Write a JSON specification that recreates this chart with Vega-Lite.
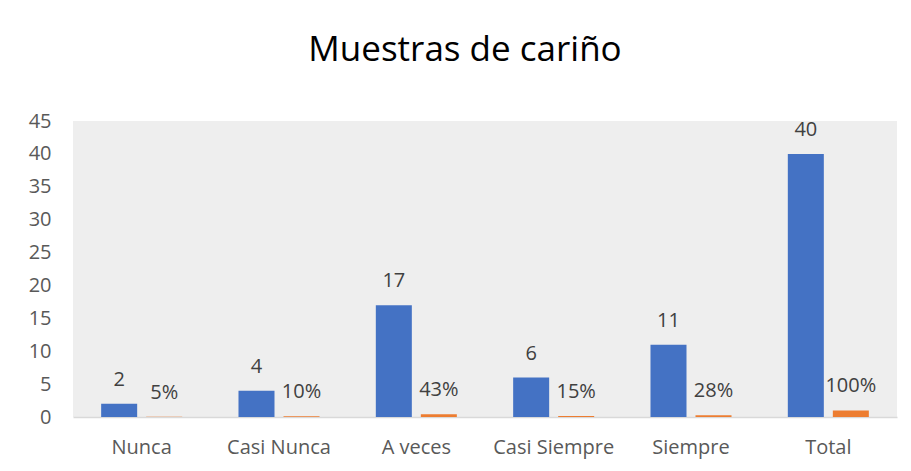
{
  "$schema": "https://vega.github.io/schema/vega-lite/v6.json",
  "width": 824,
  "height": 296,
  "autosize": {"type": "none"},
  "padding": {"left": 73, "top": 121, "right": 14, "bottom": 54},
  "background": "white",
  "title": {
    "text": "Muestras de cariño",
    "font": "Open Sans",
    "fontSize": 35,
    "fontWeight": "normal",
    "color": "#000000",
    "anchor": "middle",
    "baseline": "alphabetic",
    "offset": 15,
    "dx": -20
  },
  "config": {"view": {"fill": "#eeeeee", "stroke": null}},
  "data": {
    "values": [
      {"categoria": "Nunca", "serie": "Frecuencia", "valor": 2, "etiqueta": "2"},
      {"categoria": "Nunca", "serie": "Porcentaje", "valor": 0.05, "etiqueta": "5%"},
      {"categoria": "Casi Nunca", "serie": "Frecuencia", "valor": 4, "etiqueta": "4"},
      {"categoria": "Casi Nunca", "serie": "Porcentaje", "valor": 0.1, "etiqueta": "10%"},
      {"categoria": "A veces", "serie": "Frecuencia", "valor": 17, "etiqueta": "17"},
      {"categoria": "A veces", "serie": "Porcentaje", "valor": 0.43, "etiqueta": "43%"},
      {"categoria": "Casi Siempre", "serie": "Frecuencia", "valor": 6, "etiqueta": "6"},
      {"categoria": "Casi Siempre", "serie": "Porcentaje", "valor": 0.15, "etiqueta": "15%"},
      {"categoria": "Siempre", "serie": "Frecuencia", "valor": 11, "etiqueta": "11"},
      {"categoria": "Siempre", "serie": "Porcentaje", "valor": 0.28, "etiqueta": "28%"},
      {"categoria": "Total", "serie": "Frecuencia", "valor": 40, "etiqueta": "40"},
      {"categoria": "Total", "serie": "Porcentaje", "valor": 1.0, "etiqueta": "100%"}
    ]
  },
  "encoding": {
    "x": {
      "field": "categoria",
      "type": "nominal",
      "sort": ["Nunca", "Casi Nunca", "A veces", "Casi Siempre", "Siempre", "Total"],
      "scale": {"paddingInner": 0.41, "paddingOuter": 0.205},
      "axis": {
        "title": null,
        "labelAngle": 0,
        "labelFont": "Open Sans",
        "labelFontSize": 20,
        "labelColor": "#595959",
        "labelPadding": 20,
        "ticks": false,
        "tickSize": 0,
        "domainColor": "#d9d9d9",
        "domainWidth": 1.5
      }
    },
    "xOffset": {
      "field": "serie",
      "sort": ["Frecuencia", "Porcentaje"],
      "scale": {"paddingInner": 0.2, "paddingOuter": 0}
    },
    "y": {
      "field": "valor",
      "type": "quantitative",
      "scale": {"domain": [0, 45], "nice": false},
      "axis": {
        "title": null,
        "values": [0, 5, 10, 15, 20, 25, 30, 35, 40, 45],
        "grid": false,
        "domain": false,
        "ticks": false,
        "tickSize": 0,
        "labelPadding": 22,
        "labelFont": "Open Sans",
        "labelFontSize": 20,
        "labelColor": "#595959"
      }
    }
  },
  "layer": [
    {
      "mark": {"type": "bar"},
      "encoding": {
        "color": {
          "field": "serie",
          "type": "nominal",
          "scale": {"domain": ["Frecuencia", "Porcentaje"], "range": ["#4472C4", "#ED7D31"]},
          "legend": null
        }
      }
    },
    {
      "mark": {"type": "text", "baseline": "alphabetic", "dy": -18, "font": "Open Sans", "fontSize": 20, "color": "#404040"},
      "encoding": {"text": {"field": "etiqueta", "type": "nominal"}}
    }
  ]
}
